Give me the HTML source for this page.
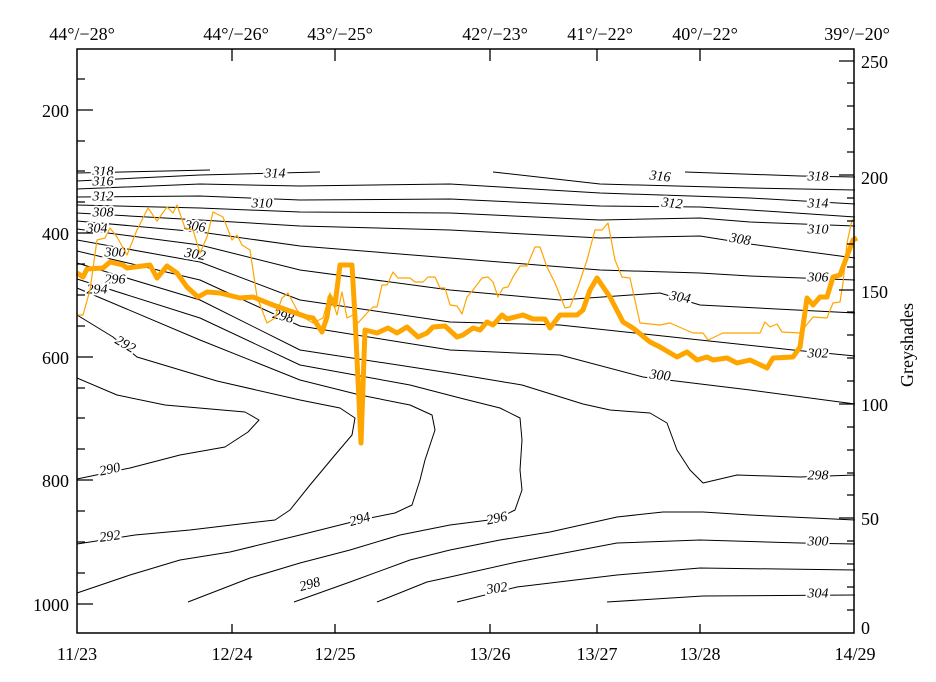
<!DOCTYPE html>
<html><head><meta charset="utf-8"><style>
body{margin:0;background:#fff}
svg{display:block}
text{font-family:"Liberation Serif","DejaVu Serif",serif}
.ax{font-size:18px}
.cl{font-size:14px;stroke:#fff;stroke-width:4px;paint-order:stroke;font-style:italic}
</style></head><body>
<svg width="936" height="682" viewBox="0 0 936 682" xmlns="http://www.w3.org/2000/svg">
<rect width="936" height="682" fill="#fff"/>
<g fill="none" stroke="#000" stroke-width="1" stroke-linejoin="round">
<polyline points="77,173 210,170"/>
<polyline points="685,172 800,176 855,177"/>
<polyline points="77,181 200,175 320,172"/>
<polyline points="493,172 600,184 750,188 855,190"/>
<polyline points="77,189 200,184 300,186 450,184 600,193 750,198 855,204"/>
<polyline points="77,197 200,196 300,200 450,199 600,206 700,207 750,210 855,217"/>
<polyline points="77,205 200,208 300,212 450,213 600,220 700,218 750,222 855,226"/>
<polyline points="77,213 200,220 300,226 450,230 600,238 700,236 750,244 855,258"/>
<polyline points="77,221 200,232 300,246 450,258 600,270 700,273 750,276 855,280"/>
<polyline points="77,229 200,245 300,270 450,290 560,300 660,293 700,305 855,313"/>
<polyline points="77,240 200,262 300,300 450,322 560,325 700,340 793,350 855,356"/>
<polyline points="77,251 200,280 300,326 450,350 560,355 643,377 750,390 855,404"/>
<polyline points="77,263 200,300 300,350 450,373 522,385 583,404 610,410 650,413 667,423 677,450 690,470 703,483 737,475 800,477 855,475"/>
<polyline points="77,279 200,318 300,365 410,385 460,398 500,408 520,418 522,440 520,470 522,490 515,510 497,519 450,525 400,535 350,550 300,563 250,578 188,602"/>
<polyline points="77,288 200,340 300,380 360,395 410,405 432,415 435,430 425,460 420,480 412,505 395,513 360,520 300,535 230,552 180,560 130,575 77,593"/>
<polyline points="77,315 113,337 137,357 217,381 300,400 340,408 355,418 352,435 335,455 310,485 290,510 275,520 240,524 190,530 135,535 77,544"/>
<polyline points="77,378 117,395 165,405 245,412 259,420 248,432 225,447 180,455 130,468 77,479"/>
<polyline points="294,602 350,582 410,560 450,550 500,540 550,532 617,517 663,512 703,512 750,515 855,520"/>
<polyline points="377,602 427,582 450,577 517,562 617,543 700,540 800,543 855,544"/>
<polyline points="457,602 517,587 617,575 700,568 855,570"/>
<polyline points="607,602 703,596 855,595"/>
</g>
<g class="cl" text-anchor="middle" dominant-baseline="central">
<text x="103" y="172">318</text><text x="103" y="182">316</text><text x="103" y="197">312</text>
<text x="103" y="213">308</text><text x="97" y="229">304</text><text x="115" y="253">300</text>
<text x="115" y="280">296</text><text x="97" y="290">294</text>
<text x="125" y="345" transform="rotate(30 125 345)">292</text>
<text x="110" y="470" transform="rotate(-12 110 470)">290</text>
<text x="110" y="537" transform="rotate(-8 110 537)">292</text>
<text x="275" y="174">314</text><text x="262" y="204">310</text>
<text x="195" y="227" transform="rotate(8 195 227)">306</text>
<text x="195" y="255" transform="rotate(10 195 255)">302</text>
<text x="283" y="317" transform="rotate(15 283 317)">298</text>
<text x="360" y="520" transform="rotate(-15 360 520)">294</text>
<text x="497" y="519" transform="rotate(-12 497 519)">296</text>
<text x="310" y="585" transform="rotate(-15 310 585)">298</text>
<text x="497" y="589" transform="rotate(-8 497 589)">302</text>
<text x="660" y="177" transform="rotate(6 660 177)">316</text>
<text x="672" y="204" transform="rotate(6 672 204)">312</text>
<text x="740" y="240" transform="rotate(10 740 240)">308</text>
<text x="680" y="298" transform="rotate(10 680 298)">304</text>
<text x="660" y="376" transform="rotate(6 660 376)">300</text>
<text x="818" y="177">318</text><text x="818" y="204">314</text><text x="818" y="230">310</text>
<text x="818" y="278">306</text><text x="818" y="354">302</text><text x="818" y="476">298</text>
<text x="818" y="542">300</text><text x="818" y="594">304</text>
</g>
<polyline fill="none" stroke="#FFA500" stroke-width="1.2" stroke-linejoin="round" points="77,315 83,315 90,290 97,240 105,238 110,228 117,237 127,255 137,230 148,208 157,221 167,207 173,213 177,205 185,228 193,230 200,253 207,237 213,212 223,217 232,240 237,235 242,245 250,250 257,297 267,323 275,318 282,298 288,293 297,310 303,317 313,323 323,318 330,293 337,315 342,292 347,318 353,315 358,323 367,313 373,307 377,307 382,285 387,285 393,272 398,278 410,278 415,282 423,282 428,277 435,277 440,288 445,288 450,305 457,306 462,314 467,297 473,290 482,278 488,277 493,282 498,297 503,288 508,287 513,277 520,266 527,266 535,247 540,247 547,267 555,283 565,308 570,307 578,287 587,260 595,230 602,230 608,223 615,260 622,277 630,278 640,323 660,325 670,323 693,333 703,333 708,340 723,333 760,333 765,322 770,327 777,324 782,332 800,333 813,317 827,318 833,303 840,302 843,283 847,243 852,220 855,220"/>
<polyline fill="none" stroke="#FFA500" stroke-width="5" stroke-linejoin="round" points="77,273 83,277 87,269 103,268 110,262 123,265 127,268 150,265 157,278 167,266 177,273 187,287 198,297 207,292 220,293 240,298 253,297 273,305 287,310 307,317 313,318 322,332 327,317 330,297 335,305 340,265 352,265 355,317 361,443 365,330 377,333 388,328 397,333 407,327 418,337 427,333 433,327 445,326 457,337 463,335 473,328 480,330 487,322 493,325 502,315 507,319 523,315 533,319 545,319 550,328 560,315 577,315 583,310 590,290 597,278 610,297 623,322 633,328 650,342 660,347 677,357 687,352 697,360 707,357 713,360 727,358 737,363 750,360 767,368 773,358 793,357 800,347 807,298 813,305 820,297 827,297 833,277 840,275 853,240 857,238"/>
<rect x="77" y="49" width="777" height="584" fill="none" stroke="#000" stroke-width="1.5"/>
<g stroke="#000" stroke-width="1.3">
<path d="M77,110h16M77,233h16M77,357h16M77,480h16M77,604h16"/>
<path d="M77,79h8M77,141h8M77,171h8M77,202h8M77,264h8M77,295h8M77,326h8M77,388h8M77,418h8M77,449h8M77,511h8M77,542h8M77,573h8"/>
<path d="M854,518h-15M854,404h-15M854,290h-15M854,175h-15M854,61h-15"/>
<path d="M854,610h-7M854,587h-7M854,564h-7M854,541h-7M854,495h-7M854,473h-7M854,450h-7M854,427h-7M854,381h-7M854,358h-7M854,335h-7M854,312h-7M854,267h-7M854,244h-7M854,221h-7M854,198h-7M854,152h-7M854,129h-7M854,106h-7M854,83h-7"/>
<path d="M232,49v12M335,49v12M490,49v12M597,49v12M700,49v12"/>
<path d="M232,633v-9M335,633v-9M490,633v-9M597,633v-9M700,633v-9"/>
</g>
<g class="ax" text-anchor="end" dominant-baseline="central">
<text x="69" y="111">200</text><text x="69" y="234">400</text><text x="69" y="358">600</text>
<text x="69" y="481">800</text><text x="69" y="605">1000</text>
</g>
<g class="ax" dominant-baseline="central">
<text x="861" y="628">0</text><text x="861" y="519">50</text><text x="861" y="405">100</text>
<text x="861" y="292">150</text><text x="861" y="178">200</text><text x="861" y="62">250</text>
</g>
<g class="ax" text-anchor="middle">
<text x="77" y="660">11/23</text><text x="232" y="660">12/24</text><text x="335" y="660">12/25</text>
<text x="490" y="660">13/26</text><text x="597" y="660">13/27</text><text x="700" y="660">13/28</text>
<text x="855" y="660">14/29</text>
<text x="82" y="40">44°/−28°</text><text x="236" y="40">44°/−26°</text><text x="340" y="40">43°/−25°</text>
<text x="495" y="40">42°/−23°</text><text x="600" y="40">41°/−22°</text><text x="705" y="40">40°/−22°</text>
<text x="857" y="40">39°/−20°</text>
</g>
<text class="ax" x="913" y="345" text-anchor="middle" transform="rotate(-90 913 345)">Greyshades</text>
</svg>
</body></html>
